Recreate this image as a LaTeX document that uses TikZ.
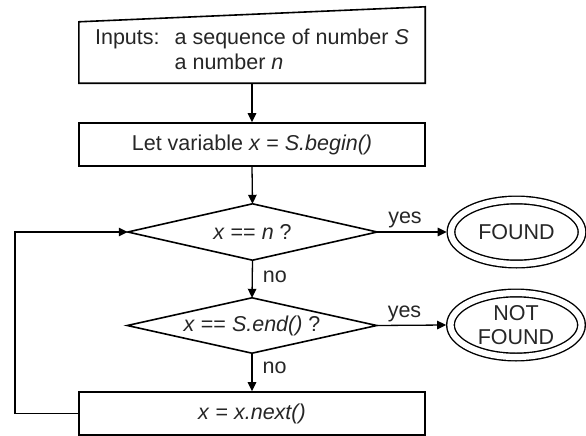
\documentclass[tikz,border=0pt]{standalone}
\usepackage{fontspec}
\setmainfont{Liberation Sans}
\usetikzlibrary{arrows.meta,shapes.geometric}

\begin{document}
\begin{tikzpicture}[x=1pt,y=-1pt,
  every node/.style={font=\fontsize{21.5}{25}\selectfont, text=black!85},
  boxshape/.style={draw=none, rectangle, minimum width=346pt, inner sep=0pt},
  outline/.style={line width=1.6pt, line join=miter},
  decision/.style={draw=none, rectangle, minimum width=249pt, inner sep=0pt},
  terminal/.style={ellipse, draw, line width=1.4pt, double, double distance=6.2pt,
    minimum width=131pt, minimum height=64pt, inner sep=0pt, outer sep=4.3pt,
    align=center, font=\fontsize{21.5}{24}\selectfont},
  flow/.style={line width=1.3pt, -{Triangle[length=9pt,width=8.5pt]}},
  lbl/.style={inner sep=2pt}]

  \useasboundingbox (0,0) rectangle (586,436);

  % input block (manual-input shape, sloping top)
  \node[boxshape, minimum height=61pt] (inp) at (252,52.5)
    {\begin{tabular}{@{}l@{\hspace{15pt}}l@{}}
      Inputs: & a sequence of number \textit{S}\\
              & a number \textit{n}
     \end{tabular}};
  \draw[outline] (inp.south west) -- (inp.north west)
     -- ([yshift=15pt]inp.north east) -- (inp.south east) -- cycle;

  % initialisation
  \node[boxshape, draw, outline, minimum height=43pt] (init) at (252,144.5)
    {Let variable \textit{x} = \textit{S.begin()}};

  % first test
  \node[decision, minimum height=56pt] (d1) at (252.5,232)
    {\textit{x} == \textit{n} ?};
  \draw[outline] (d1.west) -- (d1.north) -- (d1.east) -- (d1.south) -- cycle;

  % second test
  \node[decision, minimum height=55pt] (d2) at (252,325.5)
    {\textit{x} == \textit{S.end()} ?};
  \draw[outline] (d2.west) -- (d2.north) -- (d2.east) -- (d2.south) -- cycle;

  % step
  \node[boxshape, draw, outline, minimum height=43pt] (step3) at (252,413.5)
    {\textit{x} = \textit{x.next()}};

  % outcomes
  \node[terminal] (found) at (516.5,232) {FOUND};
  \node[terminal] (notfound) at (516,325) {NOT\\FOUND};

  % connectors
  \draw[flow] (inp.south) -- (init.north);
  \draw[flow] (init.south) -- (d1.north);
  \draw[flow] (d1.south) -- node[lbl, pos=0.45, right=8pt] {no} (d2.north);
  \draw[flow] (d2.south) -- node[lbl, pos=0.38, right=8pt] {no} (step3.north);
  \draw[flow] (d1.east) -- node[lbl, pos=0.4, above=1pt] {yes} (found.west);
  \draw[flow] (d2.east) -- node[lbl, pos=0.4, above=1pt] {yes} (notfound.west);

  % loop back to the first test
  \coordinate (lx) at (15,0);
  \draw[flow] (step3.west) -- (step3.west -| lx) |- (d1.west);
\end{tikzpicture}
\end{document}
